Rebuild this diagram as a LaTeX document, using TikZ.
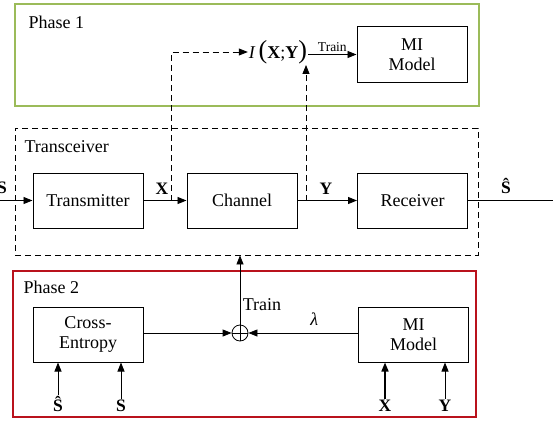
\documentclass[tikz,border=0pt]{standalone}
\usepackage{fontspec}
\setmainfont{Liberation Serif}
\usetikzlibrary{arrows.meta}
\definecolor{phgreen}{RGB}{155,187,89}
\definecolor{phred}{RGB}{185,18,28}
\begin{document}
\begin{tikzpicture}[x=1pt,y=-1pt,
  txt/.style={font=\fontsize{18}{20}\selectfont},
  blk/.style={draw,line width=1pt,minimum width=110pt,minimum height=55pt,inner sep=0pt,align=center,txt},
  arr/.style={line width=0.8pt,-{Triangle[length=9pt,width=7pt]}},
  dsh/.style={line width=0.8pt,dash pattern=on 6pt off 4pt},
  lbl/.style={inner sep=1pt,font=\fontsize{17.5}{20}\selectfont\bfseries}]
\useasboundingbox (0,0) rectangle (553,420);
% containers
\node[draw=phgreen,line width=2pt,minimum width=464pt,minimum height=102pt,inner sep=0pt] (ph1) at (247,55) {};
\node[txt,anchor=west] (ph1t) at (25,22) {Phase 1};
\node[draw,dsh,minimum width=463pt,minimum height=127pt,inner sep=0pt] (trx) at (246.5,191.5) {};
\node[txt,anchor=west] (trxt) at (21,147) {Transceiver};
\node[draw=phred,line width=2.4pt,minimum width=463pt,minimum height=146pt,inner sep=0pt] (ph2) at (244.5,344) {};
\node[txt,anchor=west] (ph2t) at (20,287) {Phase 2};
% phase 1
\node[blk] (mi1) at (412,54.5) {MI\\[0pt]Model};
\node[txt,inner sep=1pt] (mi) at (278,52) {\textit{I}\,{\fontsize{26}{26}\selectfont(}\textbf{X};\textbf{Y}{\fontsize{26}{26}\selectfont)}};
\draw[arr] (mi.east |- mi1.west) -- node[above,inner sep=2pt,font=\fontsize{13.5}{15}\selectfont]{Train} (mi1.west);
% transceiver
\node[blk] (tx) at (88,200.5) {Transmitter};
\node[blk] (ch) at (242,200.5) {Channel};
\node[blk] (rx) at (412.5,200.5) {Receiver};
\coordinate (sin) at (-5,200.5);
\coordinate (sout) at (560,200.5);
\node[lbl] (s0) at (2,188) {S};
\draw[arr] (sin) -- (tx.west);
\draw[arr] (tx.east) -- (ch.west);
\draw[arr] (ch.east) -- (rx.west);
\draw[line width=0.8pt] (rx.east) -- (sout);
\node[lbl] (xl) at (162,189) {X};
\node[lbl] (yl) at (326,189) {Y};
\node[lbl] (shl) at (506,186) {Ŝ};
\coordinate (xt) at (171,200.5);
\coordinate (yt) at (306,200.5);
\draw[dsh,-{Triangle[length=9pt,width=7pt]}] (xt) -- (xt |- mi.west) -- (mi.west);
\draw[dsh,-{Triangle[length=9pt,width=7pt]}] (yt) -- (yt |- mi.south);
% phase 2
\node[blk] (ce) at (88,334.5) {Cross-\\[0pt]Entropy};
\node[blk] (mi2) at (413.5,334.5) {MI\\[0pt]Model};
\node[circle,draw,line width=0.8pt,minimum size=16pt,inner sep=0pt] (plus) at (240,333) {};
\draw[line width=0.8pt] (plus.north) -- (plus.south) (plus.west) -- (plus.east);
\draw[arr] (ce.east |- plus) -- (plus.west);
\draw[arr] (mi2.west |- plus) -- node[above=4pt,pos=0.4,txt]{\textit{λ}} (plus.east);
\draw[arr] (plus.north) -- (plus |- trx.south);
\node[txt] (trn) at (262,305) {Train};
\node[lbl] (in1) at (58,404) {Ŝ};
\node[lbl] (in2) at (121,406) {S};
\node[lbl] (in3) at (385,406) {X};
\node[lbl] (in4) at (445,406) {Y};
\draw[arr] (in1.north) -- (in1 |- ce.south);
\draw[arr] (in2.north) -- (in2 |- ce.south);
\draw[arr,line width=1.6pt] (in3.north) -- (in3 |- mi2.south);
\draw[arr] (in4.north) -- (in4 |- mi2.south);
\end{tikzpicture}
\end{document}
